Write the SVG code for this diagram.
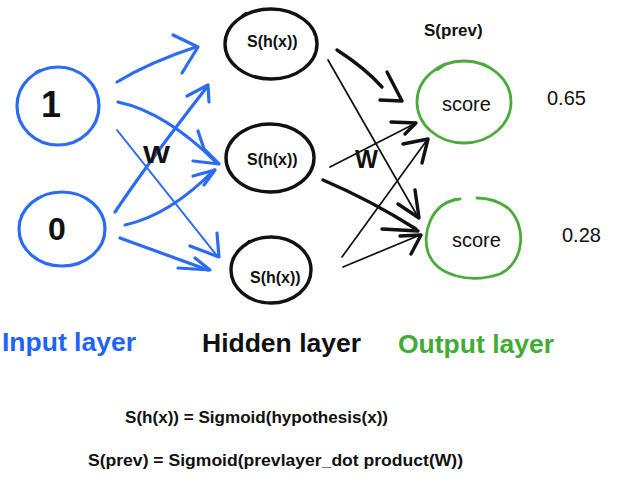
<svg xmlns="http://www.w3.org/2000/svg" width="626" height="484" viewBox="0 0 626 484">
<style>
.bl{fill:none;stroke:#2b6cf2;stroke-width:3.2;stroke-linecap:round;stroke-linejoin:round}
.blt{fill:none;stroke:#2b6cf2;stroke-width:2;stroke-linecap:round}
.bk{fill:none;stroke:#111;stroke-width:3.4;stroke-linecap:round;stroke-linejoin:round}
.bkt{fill:none;stroke:#111;stroke-width:1.7;stroke-linecap:round}
.gn{fill:none;stroke:#4aab3a;stroke-width:2.8;stroke-linecap:round}
.tk{stroke-width:2.2}
.cal{font-family:"Liberation Sans",Arial,sans-serif;font-weight:bold;fill:#111}
.reg{font-family:"Liberation Sans",Arial,sans-serif;fill:#111}
.lab{font-family:"Liberation Sans",Arial,sans-serif;font-weight:bold;font-size:26.5px}
</style>
<rect width="626" height="484" fill="#fff"/>

<g id="node-in1">
<ellipse class="bl" cx="58" cy="106" rx="41" ry="39"/>
<path class="bl tk" d="M36,72 L40,70"/>
<text class="cal" x="51" y="117" font-size="36" text-anchor="middle">1</text>
</g>
<g id="node-in0">
<ellipse class="bl" cx="62" cy="229" rx="43" ry="37"/>
<path class="bl tk" d="M38,199 L42,196"/>
<text class="cal" x="57" y="240" font-size="32" text-anchor="middle">0</text>
</g>

<g id="node-h1">
<ellipse class="bk" cx="271" cy="44" rx="46" ry="35"/>
<path class="bk tk" d="M242,16 L246,13"/>
<text class="cal" x="247" y="47" font-size="16">S(h(x))</text>
</g>
<g id="node-h2">
<ellipse class="bk" cx="270" cy="158" rx="44" ry="34"/>
<text class="cal" x="247" y="165" font-size="16">S(h(x))</text>
</g>
<g id="node-h3">
<ellipse class="bk" cx="271" cy="270" rx="40" ry="33"/>
<path class="bk tk" d="M246,245 L249,241"/>
<text class="cal" x="250" y="283" font-size="16">S(h(x))</text>
</g>

<g id="node-o1">
<ellipse class="gn" cx="464" cy="102" rx="47" ry="41"/>
<path class="gn tk" d="M437,70 L442,67"/>
<text class="reg" x="442" y="111" font-size="20">score</text>
</g>
<g id="node-o2">
<path class="gn" d="M460,199 C430,202 422,235 428,252 C436,276 470,284 500,274 C525,262 527,225 508,208 C497,200 488,198 477,198"/>
<path class="gn tk" d="M449,202 L455,199"/>
<text class="reg" x="452" y="247" font-size="20">score</text>
</g>

<g id="connectors">
<path class="bl" d="M117,82 Q150,62 196,47"/>
<path class="bl" d="M173,35 L198,47 L182,73"/>
<path class="bl" d="M118,102 Q165,112 216,162"/>
<path class="bl" d="M198,131 L204,149 L219,164 L193,161"/>
<path class="blt" d="M117,130 L218,257"/>
<path class="bl" d="M217,233 L219,257 L190,246"/>
<path class="bl" d="M115,212 Q150,160 207,87"/>
<path class="bl" d="M187,96 L208,85 L209,102"/>
<path class="bl" d="M125,225 Q170,215 214,170"/>
<path class="bl" d="M193,176 L215,170 L204,185"/>
<path class="bl" d="M120,238 L208,270"/>
<path class="bl" d="M195,258 L210,270 L178,268"/>
<path class="bk" d="M337,50 Q365,68 382,87"/>
<path class="bk" d="M387,72 L402,101 L380,100"/>
<path class="bkt" d="M328,60 L418,217"/>
<path class="bk" d="M415,190 L419,218 L398,204"/>
<path class="bkt" d="M330,167 L416,123"/>
<path class="bk" d="M391,122 L416,123 L405,134"/>
<path class="bk" d="M323,180 Q370,200 416,229"/>
<path class="bk" d="M382,229 L418,231"/>
<path class="bkt" d="M342,257 L427,140"/>
<path class="bk" d="M403,144 L428,139 L422,163"/>
<path class="bkt" d="M343,267 L420,235"/>
<path class="bk" d="M400,236 L421,235 L411,254"/>
</g>

<g id="labels">
<text class="cal" x="424" y="36" font-size="17">S(prev)</text>
<text class="reg" x="547" y="105" font-size="20">0.65</text>
<text class="reg" x="562" y="242" font-size="20">0.28</text>
<text class="cal" x="143" y="163" font-size="23" textLength="27" lengthAdjust="spacingAndGlyphs">W</text>
<text class="cal" x="355" y="168" font-size="25" textLength="23" lengthAdjust="spacingAndGlyphs">W</text>
<text class="lab" x="2" y="351" fill="#1f63ff">Input layer</text>
<text class="lab" x="202" y="352" fill="#111">Hidden layer</text>
<text class="lab" x="398" y="353" fill="#43aa36">Output layer</text>
<text class="cal" x="125" y="423" font-size="17" textLength="263" lengthAdjust="spacingAndGlyphs">S(h(x)) = Sigmoid(hypothesis(x))</text>
<text class="cal" x="88" y="466" font-size="17" textLength="375" lengthAdjust="spacingAndGlyphs">S(prev) = Sigmoid(prevlayer_dot product(W))</text>
</g>
</svg>
